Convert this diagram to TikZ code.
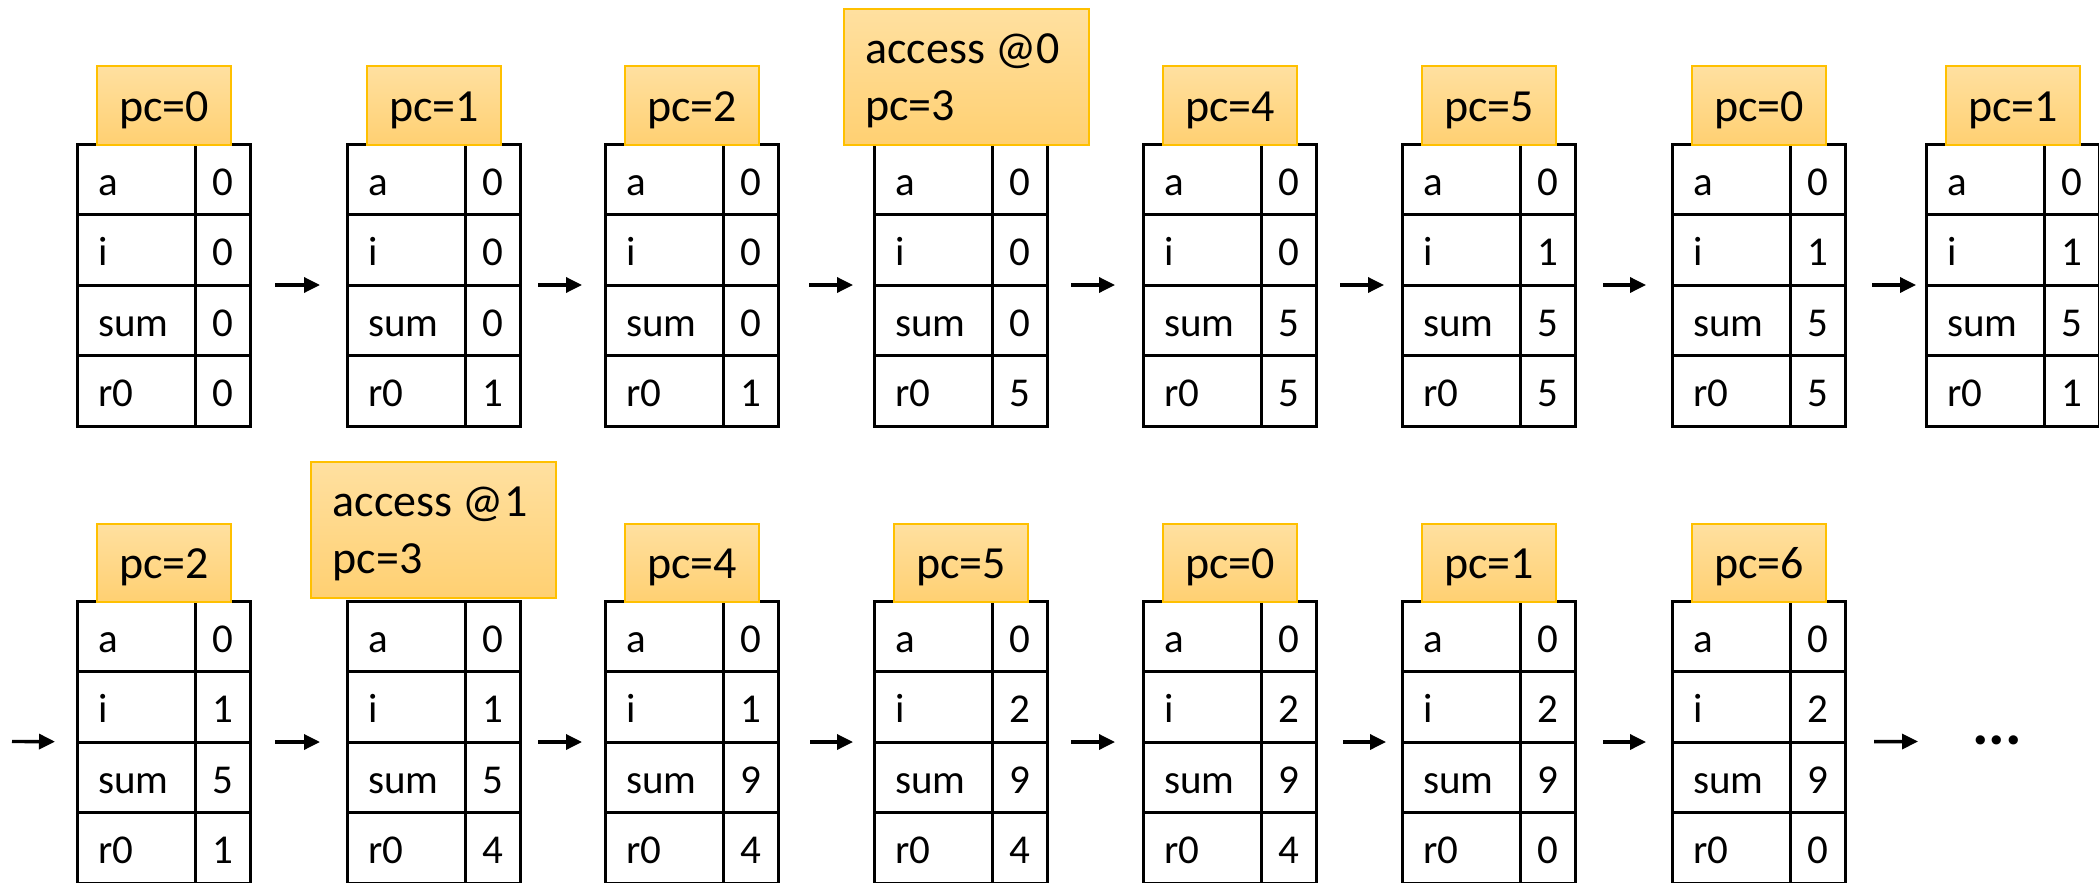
\documentclass[tikz,border=0pt]{standalone}
\usepackage{fontspec}
\setmainfont{Carlito}
\usetikzlibrary{arrows.meta}
\definecolor{boxtop}{HTML}{FFE0A0}
\definecolor{boxbot}{HTML}{FFD072}
\definecolor{boxline}{HTML}{FFC000}
\tikzset{
  regtable/.style={draw=black, line width=3pt, minimum width=173pt, minimum height=282pt,
    anchor=north west, inner sep=0pt, outer sep=0pt},
  gridline/.style={draw=black, line width=3pt},
  celltext/.style={font=\fontsize{41}{49}\selectfont, inner sep=0pt, anchor=base west},
  cellval/.style={font=\fontsize{41}{49}\selectfont, inner sep=0pt, anchor=base},
  pcbox/.style={draw=boxline, line width=2pt, top color=boxtop, bottom color=boxbot,
    anchor=north west, inner sep=0pt, outer sep=0pt},
  pctext/.style={font=\fontsize{46}{55}\selectfont, inner sep=0pt},
  flow/.style 2 args={draw=black, line width=3.4pt,
    -{Triangle[length=16pt,width=15pt]}, shorten <=#1pt, shorten >=#2pt},
  dotstext/.style={font=\fontsize{62}{70}\selectfont\bfseries, inner sep=0pt, anchor=base}
}
% #1 name, #2 x left, #3 y top, #4 a, #5 i, #6 sum, #7 r0
\newcommand{\regtab}[7]{%
  \node[regtable] (#1) at (#2,#3) {};
  \draw[gridline] (#2+118.5,#3) -- (#2+118.5,#3+282);
  \foreach \k in {1,2,3} {\draw[gridline] (#2,#3+70.5*\k) -- (#2+173,#3+70.5*\k);}
  \node[celltext] (#1-la) at (#2+21,#3+51) {a};
  \node[celltext] (#1-li) at (#2+21,#3+121.5) {i};
  \node[celltext] (#1-ls) at (#2+21,#3+192) {sum};
  \node[celltext] (#1-lr) at (#2+21,#3+262.5) {r0};
  \node[cellval] (#1-va) at (#2+146,#3+51) {#4};
  \node[cellval] (#1-vi) at (#2+146,#3+121.5) {#5};
  \node[cellval] (#1-vs) at (#2+146,#3+192) {#6};
  \node[cellval] (#1-vr) at (#2+146,#3+262.5) {#7};
}
% #1 name, #2 table x, #3 table y, #4 pc value
\newcommand{\pclab}[4]{%
  \node[pcbox, minimum width=134pt, minimum height=78pt] (#1) at (#2+20,#3-77.5) {};
  \node[pctext, anchor=base] (#1-t) at (#2+87,#3-22.5) {pc=#4};
}
% #1 name, #2 box x, #3 box y, #4 address
\newcommand{\acclab}[4]{%
  \node[pcbox, minimum width=245pt, minimum height=136pt] (#1) at (#2,#3) {};
  \node[pctext, anchor=base west] (#1-t1) at (#2+21.5,#3+54.5) {access @#4};
  \node[pctext, anchor=base west] (#1-t2) at (#2+21.5,#3+111) {pc=3};
}
\begin{document}
\begin{tikzpicture}[x=1pt,y=-1pt]
\useasboundingbox (0,0) rectangle (2099,883);
% ---- row 1 ----
\regtab{t1}{77}{144}{0}{0}{0}{0}
\regtab{t2}{347}{144}{0}{0}{0}{1}
\regtab{t3}{605}{144}{0}{0}{0}{1}
\regtab{t4}{874}{144}{0}{0}{0}{5}
\regtab{t5}{1143}{144}{0}{0}{5}{5}
\regtab{t6}{1402}{144}{0}{1}{5}{5}
\regtab{t7}{1672}{144}{0}{1}{5}{5}
\regtab{t8}{1926}{144}{0}{1}{5}{1}
\pclab{p1}{77}{144}{0}
\pclab{p2}{347}{144}{1}
\pclab{p3}{605}{144}{2}
\acclab{p4}{843.5}{9}{0}
\pclab{p5}{1143}{144}{4}
\pclab{p6}{1402}{144}{5}
\pclab{p7}{1672}{144}{0}
\pclab{p8}{1926}{144}{1}
\draw[flow={25}{27}] (t1) -- (t2);
\draw[flow={18}{23}] (t2) -- (t3);
\draw[flow={31}{21}] (t3) -- (t4);
\draw[flow={24}{28}] (t4) -- (t5);
\draw[flow={24}{18}] (t5) -- (t6);
\draw[flow={28}{26}] (t6) -- (t7);
\draw[flow={27}{10}] (t7) -- (t8);
% ---- row 2 ----
\regtab{t9}{77}{601}{0}{1}{5}{1}
\regtab{t10}{347}{601}{0}{1}{5}{4}
\regtab{t11}{605}{601}{0}{1}{9}{4}
\regtab{t12}{874}{601}{0}{2}{9}{4}
\regtab{t13}{1143}{601}{0}{2}{9}{4}
\regtab{t14}{1402}{601}{0}{2}{9}{0}
\regtab{t15}{1672}{601}{0}{2}{9}{0}
\pclab{p9}{77}{601}{2}
\acclab{p10}{311}{462}{1}
\pclab{p11}{605}{601}{4}
\pclab{p12}{874}{601}{5}
\pclab{p13}{1143}{601}{0}
\pclab{p14}{1402}{601}{1}
\pclab{p15}{1672}{601}{6}
\coordinate (start) at (12,741.5);
\coordinate (tail) at (1918,741.5);
\node[dotstext] (dots) at (1997,744.5) {...};
\draw[flow={0}{22}] (start) -- (t9);
\draw[flow={25}{27}] (t9) -- (t10);
\draw[flow={18}{23}] (t10) -- (t11);
\draw[flow={32}{21}] (t11) -- (t12);
\draw[flow={24}{28}] (t12) -- (t13);
\draw[flow={27}{16}] (t13) -- (t14);
\draw[flow={28}{26}] (t14) -- (t15);
\draw[flow={29}{0}] (t15) -- (tail);
\end{tikzpicture}
\end{document}
